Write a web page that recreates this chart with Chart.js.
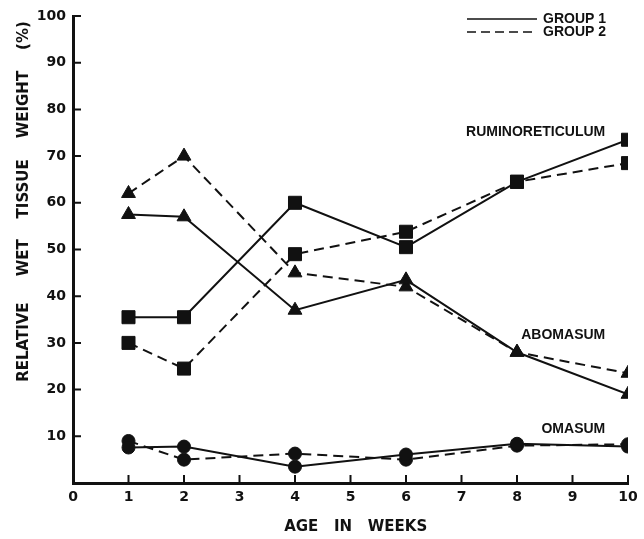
<!DOCTYPE html>
<html lang="en">
<head>
  <meta charset="UTF-8">
  <title>Relative Wet Tissue Weight</title>
  <script src="https://cdn.jsdelivr.net/npm/chart.js"></script>
  <style>
    body { margin: 0; background: #fff; }
    canvas { display: block; }
  </style>
</head>
<body>
  <canvas id="chart" width="644" height="539"></canvas>

  <script>
    // Data
    const weeks = [1, 2, 4, 6, 8, 10];
    const ruminoGroup1 = [35.5, 35.5, 60, 50.5, 64.5, 73.5];
    const ruminoGroup2 = [30, 24.5, 49, 53.8, 64.5, 68.5];
    const abomGroup1 = [57.5, 57, 37, 43.5, 28, 19];
    const abomGroup2 = [62, 70, 45, 42, 28, 23.5];
    const omasGroup1 = [7.6, 7.8, 3.5, 6.1, 8.4, 7.8];
    const omasGroup2 = [9, 5, 6.3, 5, 8, 8.3];

    const xTicks = [0, 1, 2, 3, 4, 5, 6, 7, 8, 9, 10];
    const yTicks = [10, 20, 30, 40, 50, 60, 70, 80, 90, 100];

    const ink = '#111';
    const dash = [10, 6];

    function toPoints(values) {
      return weeks.map((w, i) => ({ x: w, y: values[i] }));
    }

    function series(label, values, shape, radius, dashed) {
      return {
        label: label,
        data: toPoints(values),
        borderColor: ink,
        borderWidth: 2,
        borderDash: dashed ? dash : [],
        backgroundColor: ink,
        pointStyle: shape,
        pointRadius: radius,
        pointBackgroundColor: ink,
        pointBorderColor: ink,
        pointBorderWidth: 1,
        tension: 0,
        fill: false
      };
    }

    // inward tick marks, legend and organ labels
    const extras = {
      id: 'extras',
      afterDraw(chart) {
        const ctx = chart.ctx;
        const xs = chart.scales.x;
        const ys = chart.scales.y;
        ctx.save();
        ctx.strokeStyle = ink;
        ctx.lineWidth = 2;
        ctx.setLineDash([]);
        ctx.beginPath();
        xTicks.forEach(v => {
          if (v === 0) return;
          const px = xs.getPixelForValue(v);
          ctx.moveTo(px, ys.bottom);
          ctx.lineTo(px, ys.bottom - 8);
        });
        yTicks.forEach(v => {
          const py = ys.getPixelForValue(v);
          ctx.moveTo(xs.left, py);
          ctx.lineTo(xs.left + 8, py);
        });
        ctx.stroke();

        // legend
        ctx.lineWidth = 1.5;
        ctx.beginPath();
        ctx.moveTo(467, 19);
        ctx.lineTo(537, 19);
        ctx.stroke();
        ctx.setLineDash([9, 5]);
        ctx.beginPath();
        ctx.moveTo(467, 32);
        ctx.lineTo(537, 32);
        ctx.stroke();
        ctx.setLineDash([]);

        ctx.fillStyle = ink;
        ctx.font = 'bold 14px "Liberation Sans"';
        ctx.textBaseline = 'middle';
        ctx.textAlign = 'left';
        ctx.fillText('GROUP 1', 543, 19);
        ctx.fillText('GROUP 2', 543, 32);

        // organ labels
        ctx.textAlign = 'right';
        const lx = xs.getPixelForValue(9.59);
        ctx.fillText('RUMINORETICULUM', lx, ys.getPixelForValue(75.2));
        ctx.fillText('ABOMASUM', lx, ys.getPixelForValue(31.6));
        ctx.fillText('OMASUM', lx, ys.getPixelForValue(11.5));
        ctx.restore();
      }
    };

    new Chart(document.getElementById('chart'), {
      type: 'line',
      data: {
        datasets: [
          series('Ruminoreticulum group 1', ruminoGroup1, 'rect', 9.2, false),
          series('Ruminoreticulum group 2', ruminoGroup2, 'rect', 9.2, true),
          series('Abomasum group 1', abomGroup1, 'triangle', 8, false),
          series('Abomasum group 2', abomGroup2, 'triangle', 8, true),
          series('Omasum group 1', omasGroup1, 'circle', 6.5, false),
          series('Omasum group 2', omasGroup2, 'circle', 6.5, true)
        ]
      },
      options: {
        responsive: false,
        animation: false,
        layout: { padding: { top: 16, right: 16, left: 0, bottom: 0 } },
        plugins: {
          legend: { display: false },
          tooltip: { enabled: false }
        },
        scales: {
          x: {
            type: 'linear',
            min: 0,
            max: 10,
            afterFit: scale => { scale.height = 56; },
            afterBuildTicks: scale => { scale.ticks = xTicks.map(v => ({ value: v })); },
            grid: { display: false, drawTicks: false },
            border: { display: true, color: ink, width: 3 },
            ticks: {
              color: ink,
              padding: 6,
              font: { family: 'DejaVu Sans', weight: 'bold', size: 14 }
            },
            title: {
              display: true,
              text: '  AGE   IN   WEEKS',
              color: ink,
              font: { family: 'DejaVu Sans', weight: 'bold', size: 15 },
              padding: { top: 0, bottom: 3 }
            }
          },
          y: {
            min: 0,
            max: 100,
            afterFit: scale => { scale.width = 73; },
            afterBuildTicks: scale => { scale.ticks = yTicks.map(v => ({ value: v })); },
            grid: { display: false, drawTicks: false },
            border: { display: true, color: ink, width: 3 },
            ticks: {
              color: ink,
              padding: 7,
              font: { family: 'DejaVu Sans', weight: 'bold', size: 14 }
            },
            title: {
              display: true,
              text: 'RELATIVE     WET    TISSUE    WEIGHT    (%) ',
              align: 'end',
              color: ink,
              font: { family: 'DejaVu Sans', weight: 'bold', size: 15 },
              padding: { top: 15, bottom: 0 }
            }
          }
        }
      },
      plugins: [extras]
    });
  </script>
</body>
</html>
